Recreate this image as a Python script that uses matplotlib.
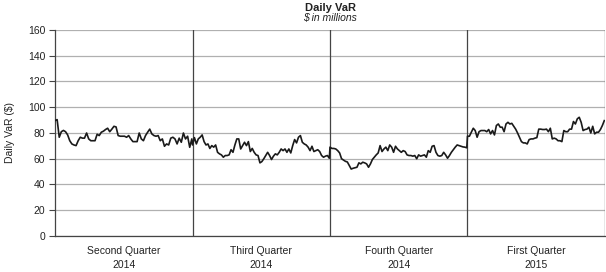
"""Daily VaR by quarter, $ in millions."""
import matplotlib

matplotlib.use("Agg")
import matplotlib.pyplot as plt
import numpy as np

plt.rcParams["font.family"] = ["Liberation Sans", "DejaVu Sans"]

QUARTERS = ["Second Quarter\n2014", "Third Quarter\n2014",
            "Fourth Quarter\n2014", "First Quarter\n2015"]

Q2_2014 = [89.6, 90.4, 76.7, 81, 82, 81, 78.5, 74, 71.5, 70.7, 70.2, 74, 76.7, 76,
           76, 80, 75.4, 74, 74, 74, 79, 78, 80.6, 81.4, 82.7, 83.7, 81, 83, 85.2,
           84.7, 78, 77.5, 77.5, 77.5, 76.7, 78, 75.4, 73.3, 73.3, 73.3, 80, 75.4,
           74, 78, 80.6, 83, 79.3, 78, 77.5, 78, 74, 75.4, 69.7, 71.5, 70.7, 76,
           76.7, 75.4, 71.5, 76, 72.8, 80, 75.4, 77.5, 68.9, 75.4]
Q3_2014 = [70.7, 76.4, 71.5, 75.4, 76.7, 78.5, 73.3, 70.7, 71.5, 68, 70.2, 69, 70.7,
           65, 63.8, 63, 61.2, 62.5, 62.5, 63, 67, 65, 70.7, 75.4, 75.4, 67.6, 70.2,
           72.8, 70.2, 73.3, 65.6, 68, 65, 63, 62.5, 56.8, 57.8, 60, 62.5, 65, 62.5,
           59.4, 62, 63.8, 63, 65, 67.6, 66.3, 67.6, 65, 67.6, 64.5, 70.2, 74.9,
           72.3, 76.7, 78, 72.8, 71.5, 70.7, 69, 66.3, 69.7, 65.6, 66.3, 67, 65.6,
           62.5, 61.2, 62, 62.5, 60.4]
Q4_2014 = [69, 68, 68, 67.6, 66.3, 64.5, 60, 59, 58, 57.5, 54.7, 52, 52.6, 53, 53.4,
           56.8, 56, 57.3, 56.8, 56, 53.4, 56, 59.4, 61.2, 63, 64.5, 70.2, 65.6,
           67.6, 69, 66.3, 70.7, 69, 65, 69.7, 67.6, 66.3, 65, 66.3, 65.6, 63, 62.5,
           62.5, 62, 62.5, 60, 63, 62, 62.5, 63, 61.2, 66.3, 65, 69.7, 70.2, 65, 62.5,
           62, 62.5, 65, 63, 60.4, 62.5, 65, 67, 69, 70.7, 70.2, 69.7, 69.2, 69, 68.5]
Q1_2015 = [77.5, 77.5, 80.6, 83.7, 81.9, 76.7, 81, 81.9, 81.9, 81.9, 81, 82.7, 79.3,
           81.9, 78.5, 85.8, 87, 84.5, 84.5, 81, 87, 88.3, 87, 87.5, 85.2, 83, 80,
           76.7, 73.3, 72.3, 72.3, 71.5, 74.9, 75.4, 75.4, 76, 76.4, 83, 83, 82.7,
           82.7, 83, 81, 83.7, 75.4, 76, 75.4, 74, 74, 73.3, 81.9, 81, 81, 83, 83,
           88.9, 87, 91, 92.2, 88.3, 81.9, 82.7, 83, 84.5, 80, 85.2, 79.3, 80.6, 80.6,
           82.7, 85.8, 89.6]

Y_TICKS = [0, 20, 40, 60, 80, 100, 120, 140, 160]

fig = plt.figure(figsize=(6.06, 2.72), dpi=100)
ax = fig.add_axes([0.0908, 0.1324, 0.9075, 0.7573])

# each quarter's days spread evenly across its own unit-width slot
xs, ys = [], []
for q, vals in enumerate([Q2_2014, Q3_2014, Q4_2014, Q1_2015]):
    n = len(vals)
    xs.extend(q + np.arange(n) / (n - 1) * 0.995)
    ys.extend(vals)
ax.plot(xs, ys, color="#1a1a1a", lw=1.2, zorder=3)

for b in range(1, 5):
    ax.axvline(b, color="#444444", lw=0.9, zorder=2)

ax.set_xlim(0, 4)
ax.set_ylim(0, 160)
ax.set_yticks(Y_TICKS)
ax.yaxis.grid(True, color="#b0b0b0", lw=0.9)
ax.set_axisbelow(True)

ax.set_xticks([0.5, 1.5, 2.5, 3.5])
ax.set_xticklabels(QUARTERS, fontsize=7.5, color="#222222", linespacing=1.5)
ax.tick_params(axis="x", length=0, pad=7)
ax.tick_params(axis="y", labelsize=7.5, colors="#222222", length=4, width=0.8,
               color="#444444", pad=3)

for side in ["top", "right"]:
    ax.spines[side].set_visible(False)
for side in ["left", "bottom"]:
    ax.spines[side].set_color("#444444")
    ax.spines[side].set_linewidth(0.9)

ax.set_ylabel("Daily VaR ($)", fontsize=7.5, color="#222222", labelpad=9)

fig.text(0.5446, 0.99, "Daily VaR", ha="center", va="top",
         fontsize=8, fontweight="bold", color="#222222")
fig.text(0.5446, 0.952, "$ in millions", ha="center", va="top",
         fontsize=7.5, style="italic", color="#222222")

fig.savefig("out.png", dpi=100)
